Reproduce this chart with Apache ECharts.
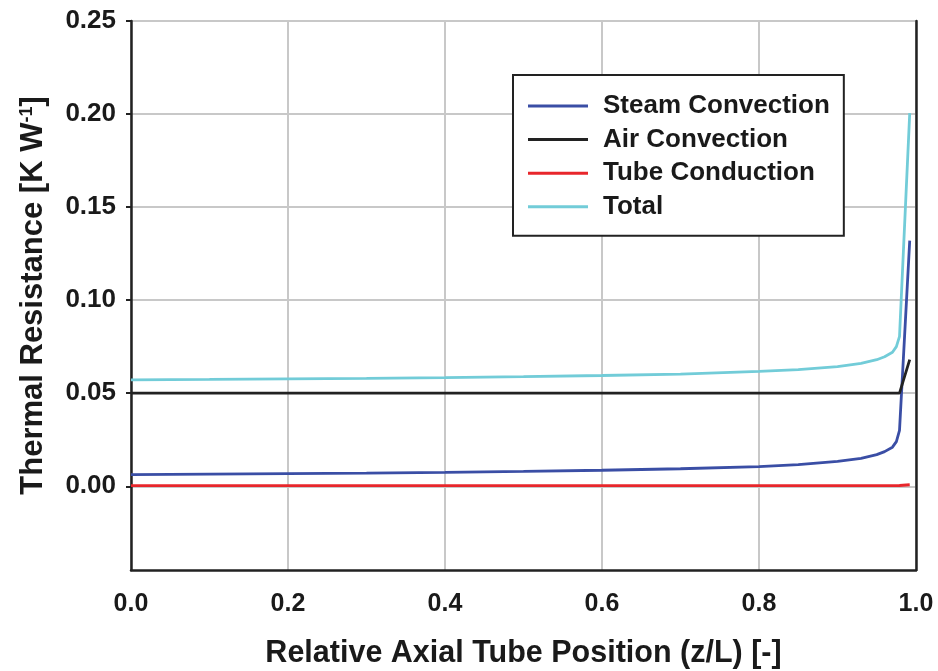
<!DOCTYPE html>
<html>
<head>
<meta charset="utf-8">
<script src="https://cdn.jsdelivr.net/npm/echarts@6/dist/echarts.min.js"></script>
<style>html,body{margin:0;padding:0;background:#fff;}#c{width:938px;height:671px;}</style>
</head>
<body>
<div id="c"></div>
<script>
// Relative axial tube position (z/L)
const positions = [0, 0.1, 0.2, 0.3, 0.4, 0.5, 0.6, 0.7, 0.8, 0.85, 0.9, 0.93, 0.95, 0.96, 0.97, 0.975, 0.979, 0.992];
const steamConvection = [0.0062, 0.0065, 0.0068, 0.0071, 0.0075, 0.0080, 0.0086, 0.0094, 0.0106, 0.0116, 0.0134, 0.0150, 0.0170, 0.0186, 0.0210, 0.0240, 0.0300, 0.1320];
const airConvection = [0.05, 0.05, 0.05, 0.05, 0.05, 0.05, 0.05, 0.05, 0.05, 0.05, 0.05, 0.05, 0.05, 0.05, 0.05, 0.05, 0.05, 0.068];
const tubeConduction = [0.0003, 0.0003, 0.0003, 0.0003, 0.0003, 0.0003, 0.0003, 0.0003, 0.0003, 0.0003, 0.0003, 0.0003, 0.0003, 0.0003, 0.0003, 0.0003, 0.0004, 0.0008];
const total = [0.0572, 0.0574, 0.0577, 0.0580, 0.0584, 0.0589, 0.0595, 0.0603, 0.0617, 0.0627, 0.0643, 0.0660, 0.0680, 0.0696, 0.0720, 0.0750, 0.0805, 0.2005];
const yTicks = [0, 0.05, 0.10, 0.15, 0.20, 0.25];
const seriesNames = ['Steam Convection', 'Air Convection', 'Tube Conduction', 'Total'];

const F = '"Liberation Sans", Arial, sans-serif';
const pair = (vals) => positions.map((x, i) => [x, vals[i]]);
const mk = (name, vals, color) => ({
  name, type: 'line', data: pair(vals), symbol: 'none', smooth: false,
  lineStyle: { color, width: 2.8 }, itemStyle: { color }, z: 3
});

const chart = echarts.init(document.getElementById('c'));
chart.setOption({
  animation: false,
  backgroundColor: '#fff',
  grid: { left: 131, right: 22, top: 21, bottom: 101, containLabel: false, outerBoundsMode: 'none' },
  legend: {
    orient: 'vertical', left: 513, top: 75,
    padding: [17, 14, 15, 15],
    borderColor: '#222', borderWidth: 2,
    icon: 'rect',
    itemWidth: 60, itemHeight: 3, itemGap: 5.6,
    backgroundColor: '#fff',
    textStyle: { fontFamily: F, fontWeight: 'bold', fontSize: 26, color: '#1a1a1a', lineHeight: 28, padding: [0, 0, 0, 10] },
    data: seriesNames
  },
  xAxis: {
    type: 'value', min: 0, max: 1, interval: 0.2,
    axisLine: { show: true, onZero: false, lineStyle: { color: '#222', width: 2.5 } },
    axisTick: { show: false },
    splitLine: { show: true, lineStyle: { color: '#c8c8c8', width: 2 } },
    axisLabel: { fontFamily: F, fontWeight: 'bold', fontSize: 25, color: '#1a1a1a', margin: 22, formatter: v => v.toFixed(1) },
    name: 'Relative Axial Tube Position (z/L) [-]',
    nameLocation: 'middle', nameGap: 68,
    nameTextStyle: { fontFamily: F, fontWeight: 'bold', fontSize: 30.5, color: '#1a1a1a' }
  },
  yAxis: [{
    type: 'value', min: -0.045, max: 0.25,
    axisLine: { show: true, onZero: false, lineStyle: { color: '#222', width: 2.5 } },
    axisTick: { show: true, length: 5, customValues: yTicks, lineStyle: { color: '#222', width: 2 } },
    splitLine: { show: true, lineStyle: { color: '#c8c8c8', width: 2 } },
    axisLabel: { fontFamily: F, fontWeight: 'bold', fontSize: 26, color: '#1a1a1a', margin: 15, customValues: yTicks, formatter: v => v.toFixed(2) },
    name: '{a|Thermal Resistance [K W}{s|-1}{a|]}',
    nameLocation: 'middle', nameGap: 82, nameRotate: 90,
    nameTextStyle: {
      rich: {
        a: { fontFamily: F, fontWeight: 'bold', fontSize: 31, color: '#1a1a1a' },
        s: { fontFamily: F, fontWeight: 'bold', fontSize: 18, color: '#1a1a1a', verticalAlign: 'top', lineHeight: 31, padding: [0, 0, 12, 0] }
      }
    }
  }, {
    type: 'value', min: -0.045, max: 0.25, position: 'right',
    axisLine: { show: true, onZero: false, lineStyle: { color: '#222', width: 2.5 } },
    axisTick: { show: false }, axisLabel: { show: false }, splitLine: { show: false }
  }],
  series: [
    mk(seriesNames[0], steamConvection, '#3a4ea5'),
    mk(seriesNames[1], airConvection, '#222222'),
    mk(seriesNames[2], tubeConduction, '#e8262b'),
    mk(seriesNames[3], total, '#72ccd8')
  ]
});
</script>
</body>
</html>
